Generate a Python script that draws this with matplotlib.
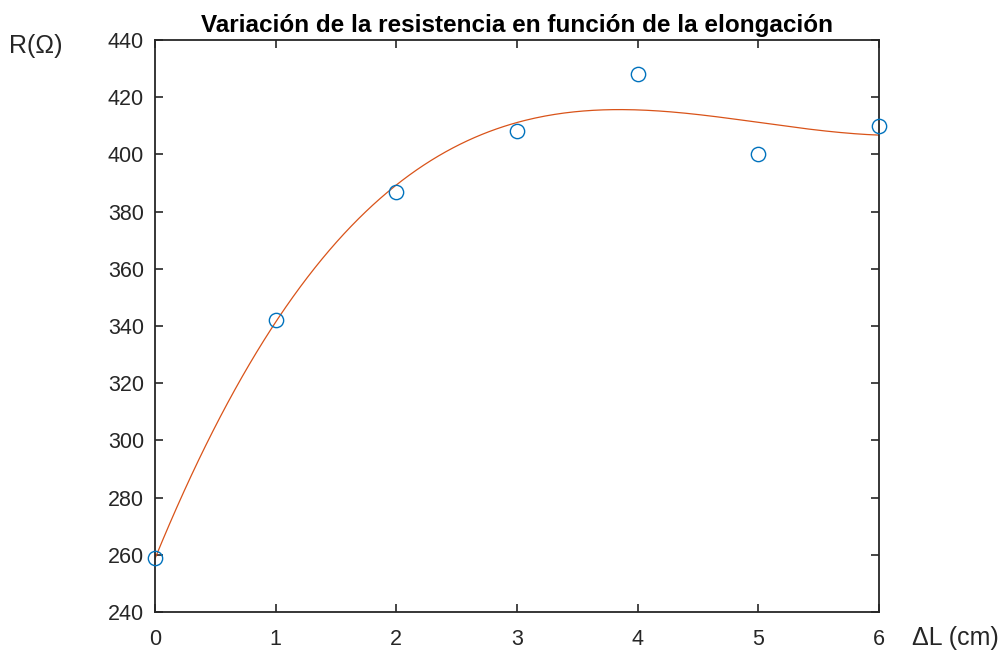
import numpy as np
import matplotlib
matplotlib.use('Agg')
import matplotlib.pyplot as plt

# measured elongation (cm) and resistance (ohm)
elongation = [0, 1, 2, 3, 4, 5, 6]
resistance = [259, 342, 387, 408, 428, 400, 410]
x_ticks = [0, 1, 2, 3, 4, 5, 6]
y_ticks = [240, 260, 280, 300, 320, 340, 360, 380, 400, 420, 440]

# cubic least-squares fit through the measurements
coef = np.polyfit(elongation, resistance, 3)
x_fit = np.linspace(0, 6, 300)
y_fit = np.polyval(coef, x_fit)

plt.rcParams['font.family'] = ['Liberation Sans', 'DejaVu Sans']

fig = plt.figure(figsize=(10.02, 6.52), dpi=100)
ax = fig.add_axes([0.1547, 0.0613, 0.7226, 0.8774])

ax.plot(x_fit, y_fit, color='#D95319', linewidth=0.9)
ax.plot(elongation, resistance, 'o', markersize=10.3, markerfacecolor='none',
        markeredgecolor='#0072BD', markeredgewidth=1.0, clip_on=False, zorder=3)

ax.set_xlim(0, 6)
ax.set_ylim(240, 440)
ax.set_xticks(x_ticks)
ax.set_yticks(y_ticks)
ax.tick_params(direction='in', top=True, right=True, length=6, width=1.2,
               labelsize=15.5, colors='#262626')
ax.tick_params(axis='y', pad=8)
ax.tick_params(axis='x', pad=12)
for s in ax.spines.values():
    s.set_linewidth(1.3)
    s.set_color('#262626')

ax.set_title('Variación de la resistencia en función de la elongación',
             fontsize=17.5, fontweight='bold', color='black', pad=6)
fig.text(0.036, 0.93, 'R(Ω)', fontsize=18, color='#262626', ha='center', va='center')
fig.text(0.953, 0.022, 'ΔL (cm)', fontsize=18, color='#262626', ha='center', va='center')

fig.savefig('out.png', dpi=100)
